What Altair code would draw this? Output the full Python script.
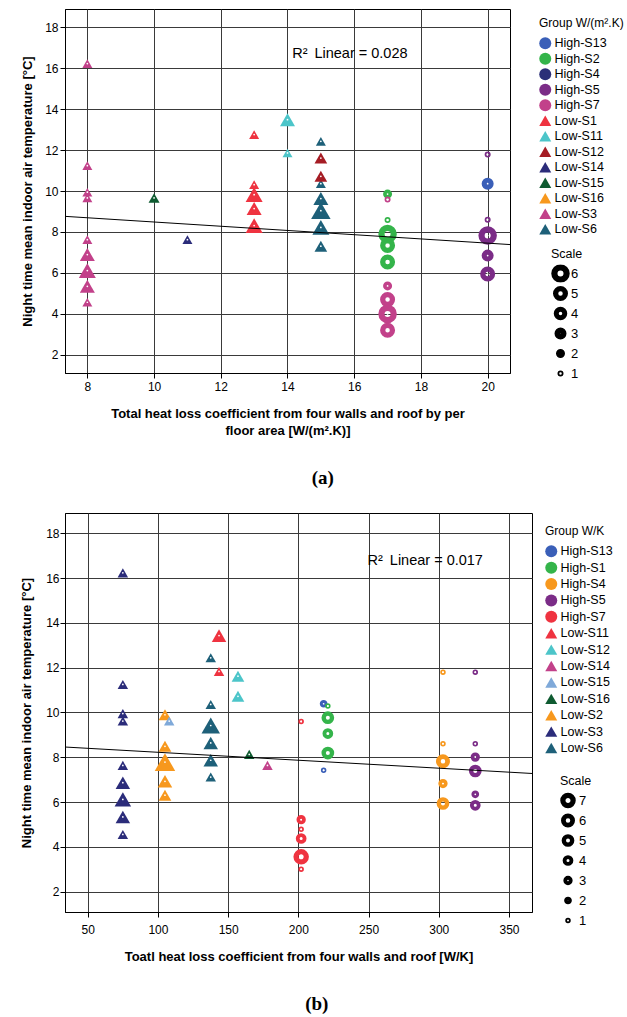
import altair as alt
import pandas as pd

FONT = "Liberation Sans"

# ---------------- Panel (a): per floor area ----------------
a_groups = ["Low-S3", "Low-S15", "Low-S14", "Low-S1", "Low-S11", "Low-S6", "Low-S12",
            "High-S2", "High-S7", "High-S5", "High-S13"]
a_x = [8, 10, 11, 13, 14, 15, 15, 17, 17, 20, 20]
a_y = [[16.23, 11.24, 9.94, 9.66, 7.62, 6.89, 6.11, 5.34, 4.56],
       [9.66],
       [7.62],
       [12.76, 10.31, 9.82, 9.14, 8.31],
       [13.49, 11.86],
       [12.43, 10.36, 9.63, 9.04, 8.22, 7.30],
       [11.61, 10.72],
       [9.85, 8.58, 7.90, 7.34, 6.53],
       [9.58, 5.36, 4.69, 3.99, 3.19],
       [11.78, 8.60, 7.82, 6.84, 5.94],
       [10.36]]
a_scale = [[1, 1, 1, 1, 1, 4, 5, 4, 1],
           [2],
           [1],
           [1, 1, 5, 4, 5],
           [4, 1],
           [1, 1, 4, 6, 5, 3],
           [3, 3],
           [2, 1, 6, 5, 5],
           [1, 2, 5, 6, 5],
           [1, 1, 6, 3, 5],
           [3]]
a_legend = ["High-S13", "High-S2", "High-S4", "High-S5", "High-S7", "Low-S1", "Low-S11",
            "Low-S12", "Low-S14", "Low-S15", "Low-S16", "Low-S3", "Low-S6"]
a_colors = ["#3a5fb8", "#34b44a", "#2b2f78", "#7b2c87", "#c2418a", "#ef3340", "#4cc5c9",
            "#a51c24", "#2b2c7a", "#0f5b31", "#f7981d", "#c2418a", "#1e6079"]
a_fit_x = [7.33, 20.67]
a_fit_y = [8.76, 7.38]
a_note = ["R\u00b2\u2009 Linear = 0.028"]
a_note_x = [14.14]
a_note_y = [16.68]
a_xticks = [8, 10, 12, 14, 16, 18, 20]

# ---------------- Panel (b): total W/K ----------------
b_groups = ["Low-S3", "Low-S2", "Low-S15", "Low-S6", "Low-S11", "Low-S12", "Low-S16",
            "Low-S14", "High-S7", "High-S13", "High-S1", "High-S4", "High-S5"]
b_x = [75, 105, 108, 137.6, 143.5, 157, 165, 178, 202, 218, 221, 303, 326]
b_y = [[16.23, 11.25, 9.95, 9.62, 7.64, 6.87, 6.12, 5.34, 4.56],
       [9.90, 8.49, 7.79, 6.93, 6.31],
       [9.62],
       [12.44, 10.36, 9.42, 8.64, 7.87, 7.12],
       [13.43, 11.83],
       [11.62, 10.72],
       [8.13],
       [7.64],
       [9.60, 5.22, 4.79, 4.38, 3.56, 3.01],
       [10.39, 7.42],
       [10.29, 9.77, 9.06, 8.19],
       [11.80, 8.61, 7.82, 6.83, 5.94],
       [11.80, 8.61, 8.01, 7.39, 6.35, 5.86]]
b_scale = [[1, 1, 1, 1, 1, 4, 5, 4, 1],
           [3, 3, 7, 4, 3],
           [1],
           [1, 1, 6, 4, 4, 1],
           [4, 1],
           [3, 3],
           [1],
           [1],
           [1, 3, 1, 4, 7, 1],
           [2, 1],
           [1, 5, 4, 5],
           [1, 1, 6, 3, 5],
           [1, 1, 3, 5, 2, 4]]
b_legend = ["High-S13", "High-S1", "High-S4", "High-S5", "High-S7", "Low-S11", "Low-S12",
            "Low-S14", "Low-S15", "Low-S16", "Low-S2", "Low-S3", "Low-S6"]
b_colors = ["#3a5fb8", "#34b44a", "#f7981d", "#7b2c87", "#ef3340", "#ef3340", "#4cc5c9",
            "#c2418a", "#7fa9d9", "#0f5b31", "#f7981d", "#2b2c7a", "#1e6079"]
b_fit_x = [33.8, 366.4]
b_fit_y = [8.46, 7.28]
b_note = ["R\u00b2\u2009 Linear = 0.017"]
b_note_x = [249.3]
b_note_y = [16.77]
b_xticks = [50, 100, 150, 200, 250, 300, 350]

y_ticks = [2, 4, 6, 8, 10, 12, 14, 16, 18]
y_title = "Night time mean indoor air temperature [\u00b0C]"


def build_panel(groups, xs, ys, scales, legend_groups, colors, fit_x, fit_y,
                note, note_x, note_y, xdom, xticks, xtitle, legend_title, caption,
                width, height, tri_w, ring_d, ring_w, leg_pos, scale_pos,
                y_label_pad, y_title_pad, x_label_pad, leg_row_pad, cap_offset,
                scale_label_offset):
    rows = []
    for g, x, yl, sl in zip(groups, xs, ys, scales):
        for y, s in zip(yl, sl):
            rows.append({"group": g, "x": x, "y": y, "scale": s,
                         "kind": "High" if g.startswith("High") else "Low"})
    df = pd.DataFrame(rows)
    df_low = df[df["kind"] == "Low"]
    df_high = df[df["kind"] == "High"]

    n = len(tri_w)
    levels = list(range(n, 0, -1))  # descending for legend order
    tri_sizes = [w * w for w in reversed(tri_w)]
    ring_sizes = [d * d for d in reversed(ring_d)]
    ring_widths = list(reversed(ring_w))

    shapes = ["circle" if g.startswith("High") else "triangle-up" for g in legend_groups]

    xs_ = alt.Scale(domain=xdom, nice=False, zero=False)
    ys_ = alt.Scale(domain=[1.1, 18.9], nice=False, zero=False)
    xenc = alt.X("x:Q", scale=xs_,
                 axis=alt.Axis(values=xticks, title=xtitle, titleLineHeight=17,
                               labelPadding=x_label_pad))
    yenc = alt.Y("y:Q", scale=ys_,
                 axis=alt.Axis(values=y_ticks, title=y_title,
                               labelPadding=y_label_pad, titlePadding=y_title_pad))

    group_legend = alt.Legend(title=legend_title, orient="none",
                              legendX=leg_pos[0], legendY=leg_pos[1],
                              symbolSize=144, labelFontSize=12.5, titleFontSize=12,
                              titleFontWeight="normal", labelOffset=3,
                              rowPadding=leg_row_pad, titlePadding=7,
                              symbolStrokeWidth=0)
    color = alt.Color("group:N", scale=alt.Scale(domain=legend_groups, range=colors),
                      legend=group_legend)
    shape = alt.Shape("group:N", scale=alt.Scale(domain=legend_groups, range=shapes),
                      legend=group_legend)

    scale_legend = alt.Legend(title="Scale", orient="none",
                              legendX=scale_pos[0], legendY=scale_pos[1],
                              labelFontSize=13, titleFontSize=12.5,
                              titleFontWeight="normal", symbolStrokeColor="black",
                              labelOffset=scale_label_offset, rowPadding=2,
                              titlePadding=4, clipHeight=18)

    tri = alt.Chart(df_low).mark_point(filled=True, opacity=1, strokeWidth=0).encode(
        x=xenc, y=yenc, color=color, shape=shape,
        size=alt.Size("scale:O", scale=alt.Scale(type="ordinal", domain=levels,
                                                 range=tri_sizes), legend=None),
    )
    ring = alt.Chart(df_high).mark_point(filled=False, opacity=1).encode(
        x=xenc, y=yenc, color=color, shape=shape,
        size=alt.Size("scale:O", scale=alt.Scale(type="ordinal", domain=levels,
                                                 range=ring_sizes), legend=scale_legend),
        strokeWidth=alt.StrokeWidth("scale:O",
                                    scale=alt.Scale(type="ordinal", domain=levels,
                                                    range=ring_widths),
                                    legend=scale_legend),
    )
    dots = alt.Chart(df).mark_circle(color="white", size=3, opacity=1).encode(
        x=xenc, y=yenc)
    fit = alt.Chart(pd.DataFrame({"x": fit_x, "y": fit_y})).mark_line(
        color="black", strokeWidth=1).encode(x=xenc, y=yenc)
    txt = alt.Chart(pd.DataFrame({"x": note_x, "y": note_y, "t": note})).mark_text(
        align="left", baseline="middle", fontSize=14.5, font=FONT, color="black").encode(
        x=xenc, y=yenc, text="t:N")

    return alt.layer(tri, ring, dots, fit, txt).resolve_scale(
        size="independent", strokeWidth="independent"
    ).properties(
        width=width, height=height,
        title=alt.TitleParams(text=caption, orient="bottom", anchor="middle",
                              frame="bounds", font="Liberation Serif", fontSize=19,
                              fontWeight="bold", offset=cap_offset, color="black"),
    )


pa = build_panel(
    a_groups, a_x, a_y, a_scale, a_legend, a_colors, a_fit_x, a_fit_y,
    a_note, a_note_x, a_note_y, [7.33, 20.67], a_xticks,
    ["Total heat loss coefficient from four walls and roof by per",
     "floor area [W/(m\u00b2.K)]"],
    "Group W/(m\u00b2.K)", "(a)", 445, 364,
    tri_w=[10, 11, 12.7, 15, 17, 19.5],
    ring_d=[4.25, 4.5, 6.25, 8.5, 9.75, 12.25],
    ring_w=[1.75, 4.5, 5.75, 5.0, 5.25, 6.25],
    leg_pos=[474, 9], scale_pos=[486, 239], y_label_pad=2, y_title_pad=10,
    x_label_pad=3, leg_row_pad=2.5, cap_offset=32, scale_label_offset=1)

pb = build_panel(
    b_groups, b_x, b_y, b_scale, b_legend, b_colors, b_fit_x, b_fit_y,
    b_note, b_note_x, b_note_y, [33.8, 366.4], b_xticks,
    "Toatl heat loss coefficient from four walls and roof [W/K]",
    "Group W/K", "(b)", 467, 399,
    tri_w=[10.5, 11.5, 12.7, 14.5, 16.5, 18.5, 20.5],
    ring_d=[3.75, 4.1, 5.4, 6.85, 8.35, 9.25, 10.25],
    ring_w=[1.75, 3.6, 3.9, 3.85, 4.35, 4.75, 5.25],
    leg_pos=[480, 13], scale_pos=[495, 262], y_label_pad=1, y_title_pad=12,
    x_label_pad=7, leg_row_pad=3.4, cap_offset=32, scale_label_offset=3)

chart = alt.vconcat(pa, pb, spacing=23).resolve_scale(
    color="independent", shape="independent", size="independent",
    strokeWidth="independent", x="independent", y="independent"
).resolve_legend(
    color="independent", shape="independent", size="independent",
    strokeWidth="independent"
).properties(
    padding={"left": 20, "top": 8, "right": 0, "bottom": 0},
    background="white",
).configure_view(
    stroke="black", strokeWidth=1
).configure_axis(
    grid=True, gridColor="#3a3a3a", gridWidth=1, gridOpacity=1,
    domainColor="black", domainWidth=1, tickColor="black", tickSize=5,
    labelFont=FONT, labelFontSize=12, labelColor="black",
    titleFont=FONT, titleFontSize=13, titleFontWeight="bold", titleColor="black",
).configure_axisX(
    titlePadding=15
).configure_legend(
    labelFont=FONT, titleFont=FONT, labelColor="black", titleColor="black"
)

chart.save("out.html", embed_options={"renderer": "svg", "actions": False})
